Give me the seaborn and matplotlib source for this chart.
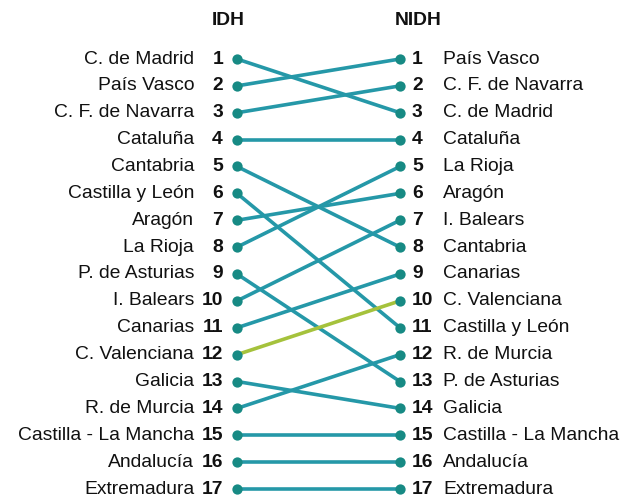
import matplotlib
matplotlib.use("Agg")
import matplotlib.pyplot as plt
import seaborn as sns
import pandas as pd

idh_regions = ["C. de Madrid", "País Vasco", "C. F. de Navarra", "Cataluña", "Cantabria",
               "Castilla y León", "Aragón", "La Rioja", "P. de Asturias", "I. Balears",
               "Canarias", "C. Valenciana", "Galicia", "R. de Murcia",
               "Castilla - La Mancha", "Andalucía", "Extremadura"]
idh_rank = list(range(1, 18))
nidh_regions = ["País Vasco", "C. F. de Navarra", "C. de Madrid", "Cataluña", "La Rioja",
                "Aragón", "I. Balears", "Cantabria", "Canarias", "C. Valenciana",
                "Castilla y León", "R. de Murcia", "P. de Asturias", "Galicia",
                "Castilla - La Mancha", "Andalucía", "Extremadura"]
nidh_rank = list(range(1, 18))
highlight = ["C. Valenciana"]
titles = ["IDH", "NIDH"]

sns.set_theme(style="white")
plt.rcParams['font.family'] = ['Liberation Sans', 'DejaVu Sans']

XL, XR = 237, 400
rows = []
for reg, r in zip(idh_regions, idh_rank):
    rows.append(dict(region=reg, x=XL, rank=r, hl=reg in highlight))
nidh_pos = dict(zip(nidh_regions, nidh_rank))
for reg in idh_regions:
    rows.append(dict(region=reg, x=XR, rank=nidh_pos[reg], hl=reg in highlight))
df = pd.DataFrame(rows)

fig = plt.figure(figsize=(6.3, 4.98), dpi=100)
ax = fig.add_axes([0, 0, 1, 1])

sns.lineplot(data=df, x="x", y="rank", units="region", estimator=None, hue="hl",
             palette={False: "#2598a8", True: "#a5c23c"}, linewidth=2.6,
             legend=False, ax=ax, sort=False)
sns.scatterplot(data=df, x="x", y="rank", color="#178a84", s=55, linewidth=0,
                legend=False, ax=ax, zorder=5)

fs = 13.9
tc = "#111111"
for reg, r in zip(idh_regions, idh_rank):
    ax.text(223, r, str(r), ha="right", va="center", fontsize=fs, fontweight="bold", color=tc)
    ax.text(194, r, reg, ha="right", va="center", fontsize=fs, color=tc)
for reg, r in zip(nidh_regions, nidh_rank):
    ax.text(412, r, str(r), ha="left", va="center", fontsize=fs, fontweight="bold", color=tc)
    ax.text(443, r, reg, ha="left", va="center", fontsize=fs, color=tc)

ax.text(228, -0.45, titles[0], ha="center", va="center", fontsize=fs, fontweight="bold", color=tc)
ax.text(418, -0.45, titles[1], ha="center", va="center", fontsize=fs, fontweight="bold", color=tc)

step = 26.875
ax.set_xlim(0, 630)
ax.set_ylim(17 + (498 - 489) / step, 1 - 59 / step)
ax.axis("off")
fig.savefig("out.png", dpi=100)
